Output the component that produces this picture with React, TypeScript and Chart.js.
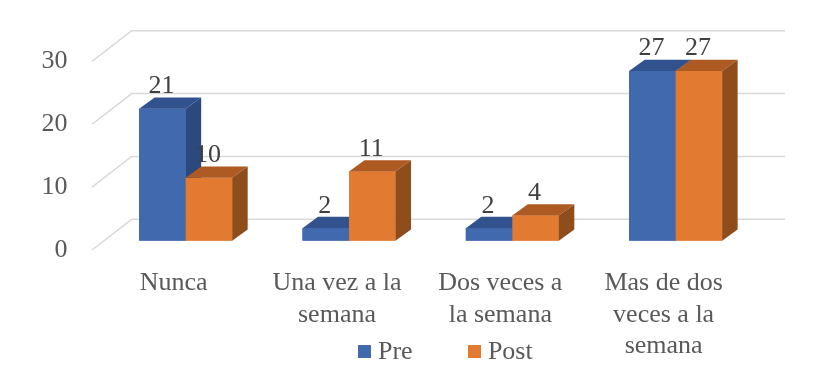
import React, { useEffect, useRef } from 'react';
import { Chart, registerables } from 'chart.js';

Chart.register(...registerables);

// ---- data ----
const categories: string[][] = [
  ['Nunca'],
  ['Una vez a la', 'semana'],
  ['Dos veces a', 'la semana'],
  ['Mas de dos', 'veces a la', 'semana'],
];
const seriesNames = ['Pre', 'Post'];
const preValues = [21, 2, 2, 27];
const postValues = [10, 11, 4, 27];
const yTickValues = [0, 10, 20, 30];

// ---- styles ----
const FONT = '"Liberation Serif", "Times New Roman", serif';
const FRONT = ['#4169AD', '#E27A32'];
const TOP = ['#32528E', '#AE5A23'];
const SIDE = ['#2B497D', '#8F4D1C'];
const DX = 15.5;
const DY = -11.3;

export default function App() {
  const ref = useRef<HTMLCanvasElement>(null);

  useEffect(() => {
    const canvas = ref.current;
    if (!canvas) return;

    const swatches = FRONT.map((c) => {
      const s = document.createElement('canvas');
      s.width = 13;
      s.height = 13;
      const g = s.getContext('2d')!;
      g.fillStyle = c;
      g.fillRect(0, 0, 13, 13);
      return s;
    });

    const grid3d = {
      id: 'grid3d',
      beforeDatasetsDraw(chart: any) {
        const { ctx, chartArea, scales } = chart;
        const y = scales.y;
        ctx.save();
        ctx.strokeStyle = '#D9D9D9';
        ctx.lineWidth = 1.5;
        y.ticks.forEach((t: any) => {
          const py = y.getPixelForValue(t.value);
          ctx.beginPath();
          ctx.moveTo(chartArea.left - 12, py + 9.3);
          ctx.lineTo(chartArea.left + 27.7, py - 21.4);
          ctx.lineTo(chartArea.right + 27.7, py - 21.4);
          ctx.stroke();
        });
        ctx.restore();
      },
    };

    const bars3d = {
      id: 'bars3d',
      afterDatasetsDraw(chart: any) {
        const { ctx } = chart;
        const n = chart.data.labels.length;
        const nd = chart.data.datasets.length;
        ctx.save();
        for (let j = 0; j < n; j++) {
          for (let i = 0; i < nd; i++) {
            const el = chart.getDatasetMeta(i).data[j];
            const { x, y, base, width } = el.getProps(['x', 'y', 'base', 'width'], true);
            const l = x - width / 2;
            const r = x + width / 2;
            ctx.fillStyle = FRONT[i];
            ctx.fillRect(l, y, width, base - y);
            ctx.fillStyle = TOP[i];
            ctx.beginPath();
            ctx.moveTo(l, y);
            ctx.lineTo(l + DX, y + DY);
            ctx.lineTo(r + DX, y + DY);
            ctx.lineTo(r, y);
            ctx.closePath();
            ctx.fill();
            ctx.fillStyle = SIDE[i];
            ctx.beginPath();
            ctx.moveTo(r, y);
            ctx.lineTo(r + DX, y + DY);
            ctx.lineTo(r + DX, base + DY);
            ctx.lineTo(r, base);
            ctx.closePath();
            ctx.fill();
          }
        }
        ctx.font = `26px ${FONT}`;
        ctx.fillStyle = '#404040';
        ctx.textAlign = 'center';
        ctx.textBaseline = 'alphabetic';
        for (let i = 0; i < nd; i++) {
          const meta = chart.getDatasetMeta(i);
          meta.data.forEach((el: any, j: number) => {
            const { x, y } = el.getProps(['x', 'y'], true);
            ctx.fillText(String(chart.data.datasets[i].data[j]), x - 1, y + DY - 4.2);
          });
        }
        ctx.restore();
      },
    };

    const chart = new Chart(canvas, {
      type: 'bar',
      data: {
        labels: categories,
        datasets: [
          {
            label: seriesNames[0],
            data: preValues,
            backgroundColor: FRONT[0],
            borderWidth: 0,
            categoryPercentage: 0.5695,
            barPercentage: 1,
          },
          {
            label: seriesNames[1],
            data: postValues,
            backgroundColor: FRONT[1],
            borderWidth: 0,
            categoryPercentage: 0.5695,
            barPercentage: 1,
          },
        ],
      },
      options: {
        responsive: false,
        animation: false,
        devicePixelRatio: 1,
        layout: { padding: { left: 0, top: 51.4, right: -62.6, bottom: 0 } },
        plugins: {
          tooltip: { enabled: false },
          legend: {
            position: 'bottom',
            maxHeight: 88.6,
            labels: {
              usePointStyle: true,
              pointStyleWidth: 0.01,
              boxWidth: 13,
              boxHeight: 13,
              padding: 62.3,
              color: '#595959',
              font: { family: FONT, size: 26 },
              generateLabels: (ch: any) => {
                const items = (Chart.defaults.plugins.legend.labels as any).generateLabels(ch);
                items.forEach((it: any, i: number) => {
                  it.pointStyle = swatches[i];
                });
                return items;
              },
            },
          },
        },
        scales: {
          x: {
            grid: { display: false, drawTicks: false },
            border: { display: false },
            ticks: {
              mirror: true,
              padding: -58.4,
              labelOffset: -12,
              maxRotation: 0,
              minRotation: 0,
              autoSkip: false,
              color: '#595959',
              font: { family: FONT, size: 26, lineHeight: 1.2154 },
            },
            afterFit: (s: any) => {
              s.height = 35.7;
            },
          },
          y: {
            min: 0,
            max: 30,
            grid: { display: false, drawTicks: false },
            border: { display: false },
            ticks: {
              padding: 36.5,
              labelOffset: 9.5,
              color: '#595959',
              font: { family: FONT, size: 26 },
            },
            afterBuildTicks: (s: any) => {
              s.ticks = yTickValues.map((v) => ({ value: v }));
            },
            afterFit: (s: any) => {
              s.width = 104;
            },
          },
          yR: {
            type: 'linear',
            position: 'right',
            display: true,
            grid: { display: false, drawTicks: false },
            border: { display: false },
            ticks: { display: false },
            afterFit: (s: any) => {
              s.width = 140.3;
            },
          },
        },
      } as any,
      plugins: [grid3d, bars3d],
    });

    return () => chart.destroy();
  }, []);

  return (
    <div style={{ position: 'absolute', left: 0, top: 0, width: 835, height: 365, background: '#fff' }}>
      <canvas ref={ref} width={835} height={365} style={{ display: 'block' }} />
    </div>
  );
}
